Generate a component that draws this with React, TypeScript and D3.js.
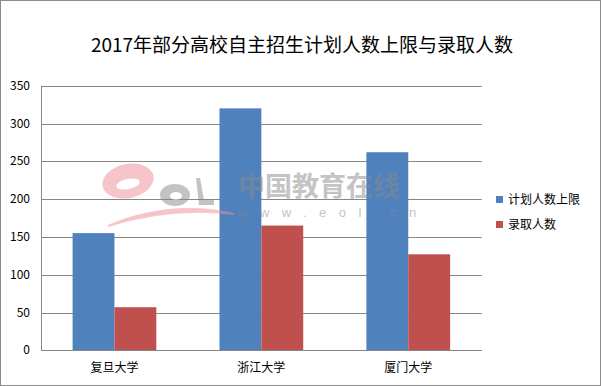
import React from "react";
import * as d3 from "d3";

const categories = ["复旦大学", "浙江大学", "厦门大学"];
const seriesNames = ["计划人数上限", "录取人数"];
const planValues = [155, 320, 262];
const admitValues = [57, 165, 127];
const yTicks = [0, 50, 100, 150, 200, 250, 300, 350];
const title = "2017年部分高校自主招生计划人数上限与录取人数";

const colors = ["#4F81BD", "#C0504D"];
const font = "'Microsoft YaHei', 'Noto Sans CJK SC', sans-serif";

export default function App() {
  const W = 601, H = 386;
  const left = 41, right = 481.7, top = 85.7, bottom = 350.3;
  const x = d3.scaleBand<string>().domain(categories).range([left, right]).paddingInner(0.43).paddingOuter(0.215);
  const inner = d3.scaleBand<string>().domain(seriesNames).range([0, x.bandwidth()]);
  const y = d3.scaleLinear().domain([0, 350]).range([bottom, top]);
  const series = [planValues, admitValues];

  return (
    <svg width={W} height={H} style={{ position: "absolute", left: 0, top: 0, display: "block" }}>
      <rect x={0.5} y={0.5} width={W - 1} height={H - 1} fill="#fff" stroke="#8c8c8c" />
      <text x={302} y={52} textAnchor="middle" fontFamily={font} fontSize={19} fill="#000">{title}</text>
      {yTicks.map((t) => (
        <g key={t}>
          <line x1={left} x2={right} y1={Math.round(y(t)) + 0.5} y2={Math.round(y(t)) + 0.5} stroke="#878787" strokeWidth={1} />
          <text x={30} y={y(t) + 4} textAnchor="end" fontFamily={font} fontSize={12} fill="#000">{t}</text>
        </g>
      ))}
      <line x1={left + 0.5} x2={left + 0.5} y1={top} y2={bottom} stroke="#878787" />
      {categories.map((c, i) => (
        <g key={c}>
          {seriesNames.map((s, j) => (
            <rect key={s} x={(x(c) as number) + (inner(s) as number)} y={y(series[j][i])} width={inner.bandwidth()}
              height={bottom - y(series[j][i])} fill={colors[j]} />
          ))}
          <text x={(x(c) as number) + x.bandwidth() / 2} y={372} textAnchor="middle" fontFamily={font} fontSize={12} fill="#000">{c}</text>
        </g>
      ))}
      <line x1={left} x2={right} y1={Math.round(bottom) + 0.5} y2={Math.round(bottom) + 0.5} stroke="#878787" />
      {/* watermark */}
      <g opacity={0.5}>
        <ellipse cx={128} cy={181} rx={26} ry={17} fill="#f08a96" transform="rotate(-12 128 181)" />
        <ellipse cx={128} cy={184} rx={12} ry={5} fill="#fff" transform="rotate(-12 128 184)" />
        <path d="M108 226 Q170 200 234 214 Q170 206 108 226 Z" fill="#f08a96" stroke="#f08a96" strokeWidth={2} />
        <ellipse cx={175} cy={195} rx={15} ry={11} fill="#888" />
        <ellipse cx={176} cy={196} rx={6} ry={4} fill="#fff" />
        <path d="M196 178 L200 178 L204 200 L214 200 L214 205 L199 205 Z" fill="#888" />
        <text x={238} y={196} fontFamily={font} fontSize={27} fontWeight="bold" fill="#8a8a8a">中国教育在线</text>
        <text x={238} y={217} fontFamily="Arial, sans-serif" fontSize={13} fill="#8a8a8a" letterSpacing={12.5}>www.eol.cn</text>
      </g>
      {seriesNames.map((s, j) => (
        <g key={s}>
          <rect x={496} y={196 + j * 25} width={7} height={7} fill={colors[j]} />
          <text x={508} y={204 + j * 25} fontFamily={font} fontSize={12} fill="#000">{s}</text>
        </g>
      ))}
    </svg>
  );
}
